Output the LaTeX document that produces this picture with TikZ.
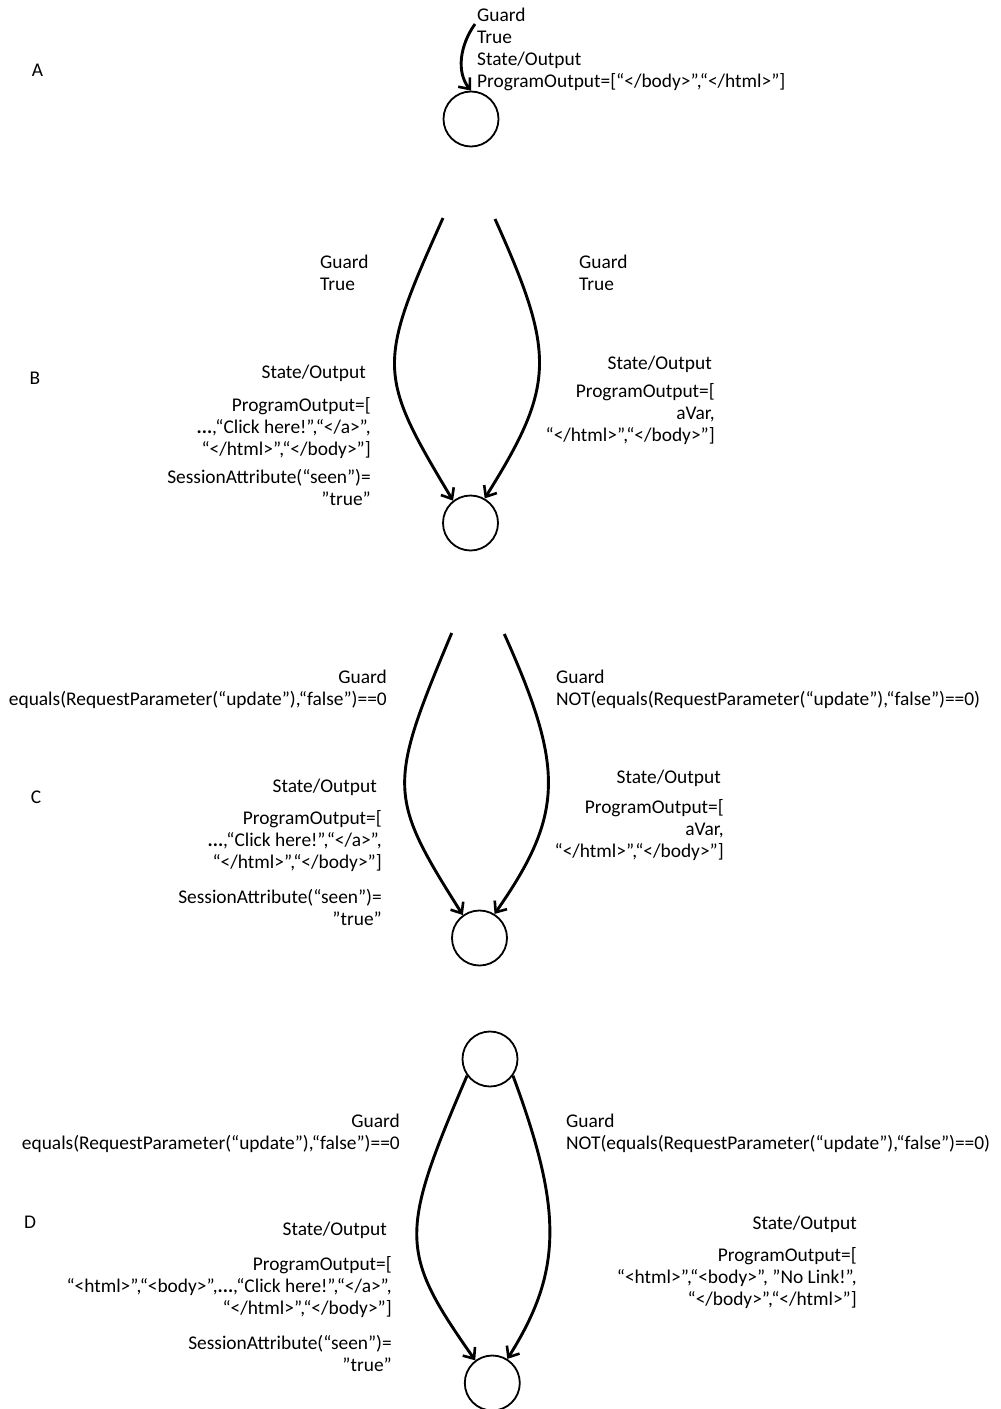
\documentclass[tikz,border=0pt]{standalone}
\usepackage{fontspec}
\setmainfont{Carlito}
\usetikzlibrary{arrows.meta}
\newcommand{\firststrut}{\rule{0pt}{15pt}}
\begin{document}
\begin{tikzpicture}[x=1pt,y=-1pt,
  lbl/.style={inner sep=0pt, font=\fontsize{19.4}{22}\selectfont},
  lblL/.style={lbl, align=left, anchor=north west},
  lblR/.style={lbl, align=right, anchor=north east},
  state/.style={circle, draw, line width=1.8pt, minimum size=55pt, inner sep=0pt},
  trans/.style={line width=2.9pt, -{Straight Barb[length=9pt,width=15pt,line width=2.6pt]}}
]
\useasboundingbox (0,0) rectangle (1001,1409);

% section letters
\node[lbl] (labA) at (37.5,70.5) {A};
\node[lbl] (labB) at (35,378) {B};
\node[lbl] (labC) at (36,797) {C};
\node[lbl] (labD) at (30,1222) {D};

% states
\node[state] (sA) at (471,119) {};
\node[state] (sB) at (470.5,523) {};
\node[state] (sC) at (479.5,938) {};
\node[state] (sD1) at (490,1059) {};
\node[state] (sD2) at (492.3,1383) {};

% A
\node[lblL] (txtA) at (477,6) {\firststrut Guard\\True\\State/Output\\ProgramOutput=[“</body>”,“</html>”]};
\coordinate (a0) at (475,24);
\draw[trans] (a0) .. controls (460,45) and (456,72) .. (sA.north);

% B
\node[lblL] (gBl) at (320,253) {\firststrut Guard\\True};
\node[lblL] (gBr) at (579,253) {\firststrut Guard\\True};
\node[lblR] (soBl) at (371,363) {\firststrut State/Output\hspace*{5pt}\\[11pt]ProgramOutput=[\\{\bfseries...},“Click here!”,“</a>”,\\“</html>”,“</body>”]\\[6pt]SessionAttribute(“seen”)=\\”true”};
\node[lblR] (soBr) at (715,354) {\firststrut State/Output\hspace*{3pt}\\[6pt]ProgramOutput=[\\aVar,\\“</html>”,“</body>”]};
\coordinate (b0) at (443,218);
\coordinate (b1) at (495,219);
\draw[trans] (b0) .. controls (377,365) and (377,374) .. (sB.128);
\draw[trans] (b1) .. controls (555.7,354) and (555.7,385) .. (sB.60);

% C
\node[lblR] (gCl) at (387,668) {\firststrut Guard\\equals(RequestParameter(“update”),“false”)==0};
\node[lblL] (gCr) at (556,668) {\firststrut Guard\\NOT(equals(RequestParameter(“update”),“false”)==0)};
\node[lblR] (soCl) at (382,777) {\firststrut State/Output\hspace*{5pt}\\[10pt]ProgramOutput=[\\{\bfseries...},“Click here!”,“</a>”,\\“</html>”,“</body>”]\\[13pt]SessionAttribute(“seen”)=\\”true”};
\node[lblR] (soCr) at (724,768) {\firststrut State/Output\hspace*{3pt}\\[8pt]ProgramOutput=[\\aVar,\\“</html>”,“</body>”]};
\coordinate (c0) at (451.7,633);
\coordinate (c1) at (504.3,634);
\draw[trans] (c0) .. controls (387.5,786) and (387.5,796) .. (sC.126);
\draw[trans] (c1) .. controls (564.4,768) and (564.4,814) .. (sC.58);

% D
\node[lblR] (gDl) at (400,1112) {\firststrut Guard\\equals(RequestParameter(“update”),“false”)==0};
\node[lblL] (gDr) at (566,1112) {\firststrut Guard\\NOT(equals(RequestParameter(“update”),“false”)==0)};
\node[lblR] (soDl) at (392,1220) {\firststrut State/Output\hspace*{5pt}\\[13pt]ProgramOutput=[\\“<html>”,“<body>”,{\bfseries...},“Click here!”,“</a>”,\\“</html>”,“</body>”]\\[13pt]SessionAttribute(“seen”)=\\”true”};
\node[lblR] (soDr) at (857,1214) {\firststrut State/Output\\[10pt]ProgramOutput=[\\“<html>”,“<body>”, ”No Link!”,\\“</body>”,“</html>”]};
\draw[trans] (sD1.216) .. controls (399,1234) and (399,1252) .. (sD2.127);
\draw[trans] (sD1.324) .. controls (562.8,1210) and (562.8,1271) .. (sD2.58);
\end{tikzpicture}
\end{document}
